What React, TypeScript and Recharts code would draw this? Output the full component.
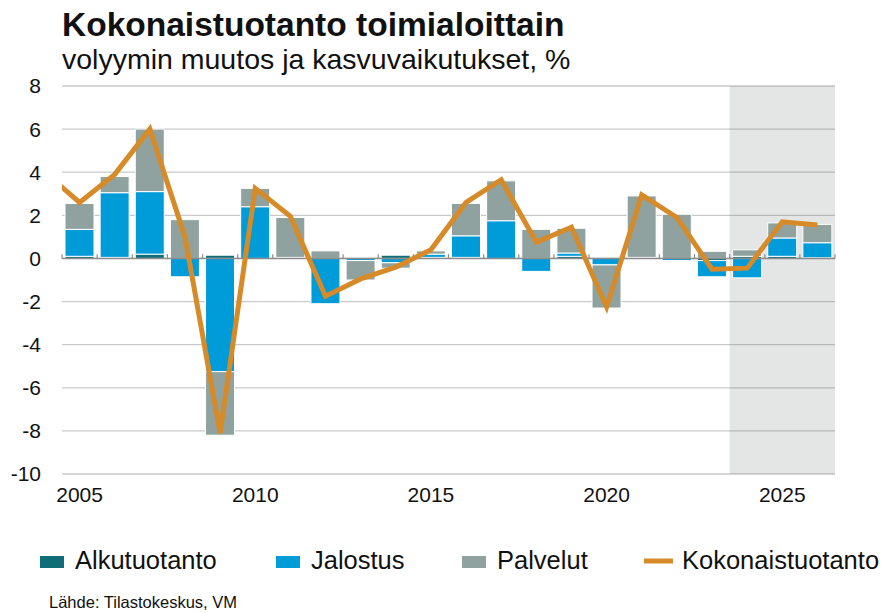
import React from 'react';
import { ComposedChart, Bar, Line, XAxis, YAxis, CartesianGrid, ReferenceArea, ReferenceLine } from 'recharts';

// 2004 is only there so the total line enters from the left edge
const years = [2004, 2005, 2006, 2007, 2008, 2009, 2010, 2011, 2012, 2013, 2014, 2015, 2016, 2017, 2018, 2019, 2020, 2021, 2022, 2023, 2024, 2025, 2026];
const alkutuotanto = [null, 0.1, 0.05, 0.2, 0, 0.15, 0, 0, 0, 0, 0.15, 0.05, 0.05, 0, 0, 0.1, 0, 0, 0, -0.1, 0.1, 0.1, 0.03];
const jalostus = [null, 1.25, 3.0, 2.9, -0.85, -5.25, 2.4, 0.05, -2.1, -0.1, -0.2, 0.15, 1.0, 1.75, -0.6, 0.15, -0.3, 0.05, -0.1, -0.75, -0.9, 0.85, 0.7];
const palvelut = [null, 1.2, 0.75, 2.9, 1.8, -2.95, 0.85, 1.85, 0.35, -0.9, -0.25, 0.15, 1.5, 1.85, 1.35, 1.15, -2.0, 2.85, 2.05, 0.33, 0.3, 0.7, 0.85];
const kokonaistuotanto = [4.0, 2.6, 3.9, 6.0, 1.0, -8.1, 3.25, 1.95, -1.75, -0.95, -0.4, 0.4, 2.6, 3.65, 0.75, 1.45, -2.25, 2.95, 1.9, -0.5, -0.45, 1.7, 1.55];

const yTicks = [-10, -8, -6, -4, -2, 0, 2, 4, 6, 8];
const xTicks = [2005, 2010, 2015, 2020, 2025];
const forecastStart = 2023.5;

const colors = {
  alku: '#0f6d77',
  jalostus: '#009bd9',
  palvelut: '#8fa29f',
  total: '#d68a28',
};

const data = years.map((year, i) => ({
  year,
  alkutuotanto: alkutuotanto[i],
  jalostus: jalostus[i],
  palvelut: palvelut[i],
  kokonaistuotanto: kokonaistuotanto[i],
}));

const font = '"Liberation Sans", Arial, sans-serif';

const legendItems = [
  { label: 'Alkutuotanto', color: colors.alku, x: 40, kind: 'box' },
  { label: 'Jalostus', color: colors.jalostus, x: 276, kind: 'box' },
  { label: 'Palvelut', color: colors.palvelut, x: 462, kind: 'box' },
  { label: 'Kokonaistuotanto', color: colors.total, x: 644, kind: 'line' },
];

export default function App() {
  const xMin = years[0] + 0.5;
  const xMax = years[years.length - 1] + 0.5;

  return (
    <div style={{ position: 'absolute', left: 0, top: 0, width: 884, height: 613, background: '#fff', fontFamily: font }}>
      <ComposedChart
        width={884}
        height={613}
        data={data}
        stackOffset="sign"
        margin={{ top: 86, right: 49, bottom: 0, left: 0 }}
      >
        <CartesianGrid vertical={false} stroke="#c9c9c9" strokeWidth={1.3} />
        {/* translucent so the grid still shows through the forecast band */}
        <ReferenceArea x1={forecastStart} x2={xMax} y1={-10} y2={8} fill="#5f6464" fillOpacity={0.17} stroke="none" />
        <XAxis
          type="number"
          dataKey="year"
          domain={[xMin, xMax]}
          allowDataOverflow
          ticks={xTicks}
          axisLine={false}
          tickLine={false}
          tickMargin={7}
          height={139}
          tick={{ fill: '#111', fontSize: 21, fontFamily: font }}
        />
        <YAxis
          type="number"
          domain={[-10, 8]}
          ticks={yTicks}
          axisLine={false}
          tickLine={false}
          tickMargin={15}
          width={62}
          tick={{ fill: '#111', fontSize: 21, fontFamily: font }}
        />
        <Bar dataKey="alkutuotanto" stackId="a" fill={colors.alku} stroke="#fff" strokeWidth={1} barSize={29} isAnimationActive={false} />
        <Bar dataKey="jalostus" stackId="a" fill={colors.jalostus} stroke="#fff" strokeWidth={1} barSize={29} isAnimationActive={false} />
        <Bar dataKey="palvelut" stackId="a" fill={colors.palvelut} stroke="#fff" strokeWidth={1} barSize={29} isAnimationActive={false} />
        <ReferenceLine y={0} stroke="#8c8c8c" strokeWidth={1.5} />
        {years.map(y => (
          <ReferenceLine
            key={y}
            segment={[{ x: y + 0.5, y: 0 }, { x: y + 0.5, y: 0.2 }]}
            stroke="#8c8c8c"
            strokeWidth={1.2}
          />
        ))}
        <Line
          type="linear"
          dataKey="kokonaistuotanto"
          stroke={colors.total}
          strokeWidth={5}
          dot={false}
          isAnimationActive={false}
        />
      </ComposedChart>

      <svg width={884} height={613} style={{ position: 'absolute', left: 0, top: 0, pointerEvents: 'none' }}>
        <text x={62} y={36} fontSize={33.5} fontWeight="bold" fill="#111" fontFamily={font}>
          Kokonaistuotanto toimialoittain
        </text>
        <text x={62} y={69} fontSize={28.5} fill="#111" fontFamily={font}>
          volyymin muutos ja kasvuvaikutukset, %
        </text>
        {legendItems.map(item => (
          <g key={item.label}>
            {item.kind === 'box' ? (
              <rect x={item.x} y={556} width={24} height={12} fill={item.color} />
            ) : (
              <line x1={item.x} x2={item.x + 29} y1={561} y2={561} stroke={item.color} strokeWidth={5} />
            )}
            <text x={item.x + (item.kind === 'box' ? 35 : 38)} y={569} fontSize={25.5} fill="#111" fontFamily={font}>
              {item.label}
            </text>
          </g>
        ))}
        <text x={49} y={608} fontSize={16.5} fill="#111" fontFamily={font}>
          Lähde: Tilastokeskus,  VM
        </text>
      </svg>
    </div>
  );
}
